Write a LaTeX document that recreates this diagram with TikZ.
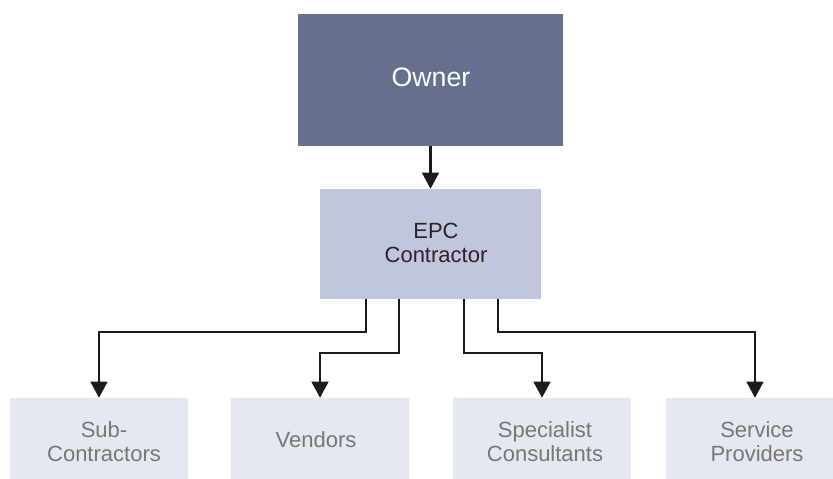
\documentclass[tikz,border=0pt]{standalone}
\usepackage{fontspec}
\setmainfont{Liberation Sans}
\usetikzlibrary{arrows.meta}
\definecolor{ownerfill}{HTML}{66708E}
\definecolor{epcfill}{HTML}{C2C6DC}
\definecolor{partyfill}{HTML}{E5E8F0}
\definecolor{partytext}{HTML}{777777}
\definecolor{linecol}{HTML}{1A1A1A}
\begin{document}
\begin{tikzpicture}[x=0.75pt,y=-0.75pt,
  ownerbox/.style={fill=ownerfill, text=white, minimum width=265*0.75pt, minimum height=132*0.75pt,
    inner sep=0pt, font=\fontsize{20pt}{24pt}\selectfont},
  epcbox/.style={fill=epcfill, text=black!85, minimum width=221*0.75pt, minimum height=110*0.75pt,
    inner sep=0pt, align=center, font=\fontsize{16.5pt}{18pt}\selectfont},
  partybox/.style={fill=partyfill, text=partytext, minimum width=178*0.75pt, minimum height=81*0.75pt,
    inner sep=0pt, align=center, font=\fontsize{16.5pt}{18pt}\selectfont},
  conn/.style={draw=linecol, line width=1.6pt, -{Triangle[width=12.5pt,length=12pt]}}]
\useasboundingbox (0,0) rectangle (833,479);
\clip (0,0) rectangle (833,479);
\fill[white] (0,0) rectangle (833,479);
% boxes
\node[ownerbox] (owner) at (430.5,80) {};
\node[text=white, font=\fontsize{20pt}{24pt}\selectfont] (ownerlbl) at (431,77) {Owner};
\node[epcbox] (epc) at (430.5,244) {};
\node[text=black!85, align=center, font=\fontsize{16.5pt}{18pt}\selectfont] (epclbl) at (436,243) {EPC\\Contractor};
\node[partybox] (sub) at (99,438.5) {};
\node[partybox] (ven) at (320,438.5) {};
\node[partybox] (spec) at (542,438.5) {};
\node[partybox] (serv) at (755,438.5) {};
\node[text=partytext, align=center, font=\fontsize{16.5pt}{18pt}\selectfont] (sublbl) at (104,442) {Sub-\\Contractors};
\node[text=partytext, font=\fontsize{16.5pt}{18pt}\selectfont] (venlbl) at (316,440) {Vendors};
\node[text=partytext, align=center, font=\fontsize{16.5pt}{18pt}\selectfont] (speclbl) at (545,442) {Specialist\\Consultants};
\node[text=partytext, align=center, font=\fontsize{16.5pt}{18pt}\selectfont] (servlbl) at (757,442) {Service\\Providers};
% connectors
\draw[conn] (owner.south) -- (epc.north);
\draw[conn] ([xshift=-64.5*0.75pt]epc.south) -- ++(0,33) -| (sub.north);
\draw[conn] ([xshift=-31.5*0.75pt]epc.south) -- ++(0,54) -| (ven.north);
\draw[conn] ([xshift=33.5*0.75pt]epc.south) -- ++(0,54) -| (spec.north);
\draw[conn] ([xshift=67.5*0.75pt]epc.south) -- ++(0,33) -| (serv.north);
\end{tikzpicture}
\end{document}
